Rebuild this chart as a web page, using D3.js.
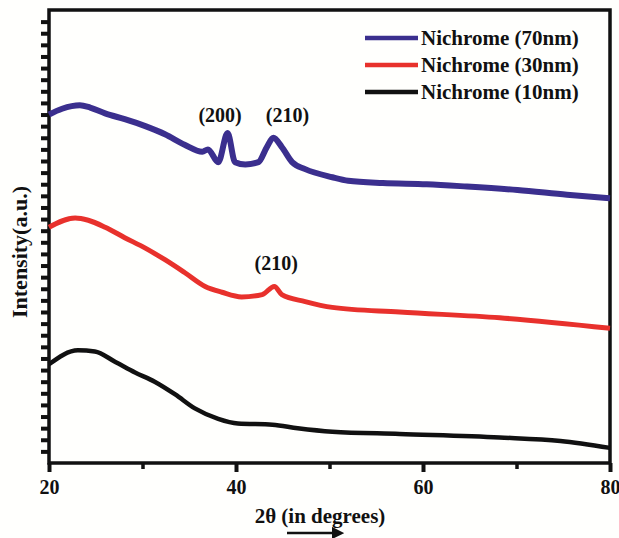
<!DOCTYPE html>
<html>
<head>
<meta charset="utf-8">
<script src="https://cdn.jsdelivr.net/npm/d3@7"></script>
<style>
  body { margin: 0; background: #fffffd; }
  svg text { font-family: "Liberation Serif", "Times New Roman", serif; font-weight: bold; fill: #111; }
</style>
</head>
<body>
<svg id="svg" width="619" height="538"></svg>
<script>
// DATA
var xTicks = [20, 40, 60, 80];
var xMinor = [30, 50, 70];

// 2theta positions and intensities (a.u., offset)
var x70 = [20, 21.4, 23.3, 24.4, 26.0, 28.1, 30.3, 32.4, 34.5, 36.4, 37.0, 38.1, 39.1, 39.9, 41.0, 42.4, 43.3, 44.0, 44.9, 46.0, 47.4, 50.3, 52.0, 55.7, 60.4, 64.7, 70.1, 75.4, 80];
var y70 = [30.0, 30.5, 30.8, 30.6, 30.1, 29.6, 29.0, 28.3, 27.4, 26.8, 27.0, 25.9, 28.4, 25.9, 25.7, 25.9, 27.2, 28.0, 27.2, 25.9, 25.3, 24.6, 24.3, 24.1, 24.0, 23.8, 23.5, 23.1, 22.8];

var x30 = [20, 22.8, 24.2, 26.0, 28.1, 30.3, 32.4, 34.5, 36.7, 38.5, 40.6, 42.8, 44.1, 44.9, 47.4, 50.3, 57.5, 68.2, 80];
var y30 = [20.3, 21.1, 20.9, 20.3, 19.4, 18.5, 17.5, 16.4, 15.2, 14.7, 14.3, 14.5, 15.2, 14.5, 13.9, 13.4, 13.0, 12.5, 11.6];

var x10 = [20, 23.1, 24.9, 27.1, 29.2, 31.3, 33.5, 35.6, 38.1, 40.2, 43.9, 46.6, 50.3, 57.5, 68.2, 74.7, 80];
var y10 = [8.5, 9.7, 9.6, 8.7, 7.8, 7.0, 5.9, 4.7, 3.8, 3.4, 3.3, 3.0, 2.7, 2.5, 2.2, 1.9, 1.3];

var seriesNames = ["Nichrome (70nm)", "Nichrome (30nm)", "Nichrome (10nm)"];
var seriesColors = ["#3b2f8e", "#e8312c", "#111111"];

var peakLabels = ["(200)", "(210)", "(210)"];
var peakX = [38.3, 45.5, 44.3];
var peakY = [29.4, 29.4, 16.6];

// SETUP
var svg = d3.select("#svg"),
  margin = { top: 10, right: 9, bottom: 75, left: 49 },
  width = 619 - margin.left - margin.right,
  height = 538 - margin.top - margin.bottom;

var x = d3.scaleLinear().domain([20, 80]).range([0, width]);
var y = d3.scaleLinear().domain([0, 39]).range([height, 0]);

var g = svg.append("g")
  .attr("transform", "translate(" + margin.left + "," + margin.top + ")");

// y ticks (no labels)
g.append("g")
  .attr("class", "axis axis--y")
  .call(d3.axisLeft(y).tickValues(d3.range(1, 39)).tickSize(8).tickFormat(""))
  .call(function (a) { a.select(".domain").remove(); })
  .selectAll("line").attr("stroke", "#111").attr("stroke-width", 4);

// x minor ticks
g.append("g")
  .attr("transform", "translate(0," + height + ")")
  .call(d3.axisBottom(x).tickValues(xMinor).tickSize(6).tickFormat(""))
  .call(function (a) { a.select(".domain").remove(); })
  .selectAll("line").attr("stroke", "#111").attr("stroke-width", 3.5);

// x major ticks
var xa = g.append("g")
  .attr("class", "axis axis--x")
  .attr("transform", "translate(0," + height + ")")
  .call(d3.axisBottom(x).tickValues(xTicks).tickSize(9).tickPadding(8).tickFormat(d3.format("d")));
xa.select(".domain").remove();
xa.selectAll("line").attr("stroke", "#111").attr("stroke-width", 4);
xa.selectAll("text").style("font-size", "20px").style("font-family", "Liberation Serif").style("font-weight", "bold").attr("fill", "#111");

// frame
g.append("rect")
  .attr("width", width).attr("height", height)
  .attr("fill", "none").attr("stroke", "#111").attr("stroke-width", 3.5);

// lines
var line = d3.line()
  .x(function (d) { return x(d[0]); })
  .y(function (d) { return y(d[1]); })
  .curve(d3.curveMonotoneX);

var allX = [x70, x30, x10], allY = [y70, y30, y10], widths = [6, 5, 4.5];
allX.forEach(function (xs, i) {
  g.append("path")
    .datum(xs.map(function (v, j) { return [v, allY[i][j]]; }))
    .attr("class", "line")
    .attr("fill", "none")
    .attr("stroke", seriesColors[i])
    .attr("stroke-width", widths[i])
    .attr("stroke-linejoin", "round")
    .attr("d", line);
});

// peak labels
peakLabels.forEach(function (t, i) {
  g.append("text")
    .attr("x", x(peakX[i]))
    .attr("y", y(peakY[i]))
    .attr("text-anchor", "middle")
    .style("font-size", "20px")
    .text(t);
});

// legend
var legend = g.append("g").attr("transform", "translate(316,28)");
seriesNames.forEach(function (n, i) {
  legend.append("line")
    .attr("x1", 0).attr("x2", 53)
    .attr("y1", i * 27).attr("y2", i * 27)
    .attr("stroke", seriesColors[i]).attr("stroke-width", 4.5);
  legend.append("text")
    .attr("x", 56).attr("y", i * 27 + 7)
    .style("font-size", "21px")
    .text(n);
});

// axis titles
svg.append("text")
  .attr("x", 320).attr("y", 523)
  .attr("text-anchor", "middle")
  .style("font-size", "21px")
  .text("2θ (in degrees)");

svg.append("defs").append("marker")
  .attr("id", "arrow").attr("viewBox", "0 0 10 10")
  .attr("refX", 5).attr("refY", 5)
  .attr("markerWidth", 5).attr("markerHeight", 5)
  .attr("orient", "auto")
  .append("path").attr("d", "M0,0L10,5L0,10z").attr("fill", "#111");

svg.append("line")
  .attr("x1", 287).attr("x2", 338)
  .attr("y1", 533).attr("y2", 533)
  .attr("stroke", "#111").attr("stroke-width", 2.5)
  .attr("marker-end", "url(#arrow)");

svg.append("text")
  .attr("transform", "translate(27,252) rotate(-90)")
  .attr("text-anchor", "middle")
  .style("font-size", "22px")
  .text("Intensity(a.u.)");
</script>
</body>
</html>
